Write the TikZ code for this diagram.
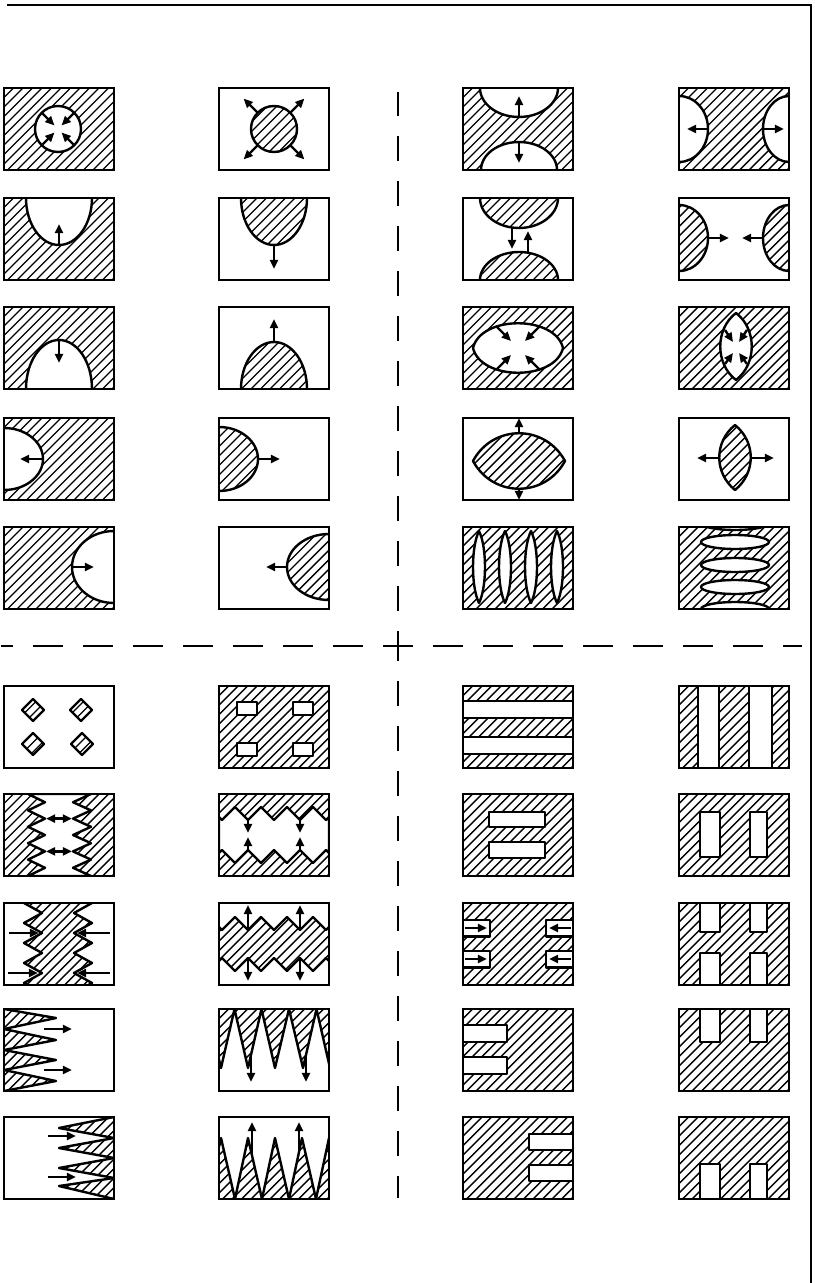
\documentclass[tikz,border=0pt]{standalone}
\usetikzlibrary{arrows.meta}
\tikzset{
  box/.style={line width=0.65mm},
  hatchln/.style={line width=0.35mm},
  rim/.style={line width=0.6mm,line join=round},
  arr/.style={line width=0.6mm,-{Triangle[length=2.3mm,width=2mm]}},
  arrs/.style={line width=0.6mm,{Triangle[length=2.3mm,width=2mm]}-{Triangle[length=2.3mm,width=2mm]}},
  rule/.style={line width=0.5mm},
  vdash/.style={line width=0.5mm,dash pattern=on 6.25mm off 5mm},
  hdash/.style={line width=0.5mm,dash pattern=on 7.5mm off 5mm},
}
\def\boxw{110}
\def\boxh{82}
\newcommand{\hatchfill}{\foreach \k in {-100,-90.5,...,96}{\draw[hatchln] (\k,100) -- ++(110,-110);}}
\newcommand{\clipbox}{\clip (0,0) rectangle (\boxw,\boxh);}
\newcommand{\cellbox}{\draw[box] (0,0) rectangle (\boxw,\boxh);}

\begin{document}
\begin{tikzpicture}[x=0.25mm,y=-0.25mm]
\useasboundingbox (0,0) rectangle (814,1283);

\def\colA{4}
\def\colB{219}
\def\colC{463}
\def\colD{679}
\def\rowA{88}
\def\rowB{198}
\def\rowC{307}
\def\rowD{418}
\def\rowE{527}
\def\rowF{686}
\def\rowG{794}
\def\rowH{903}
\def\rowI{1009}
\def\rowJ{1117}

% ------------------------------------------------ frame and dividers
\draw[rule] (7,5) -- (811,5) -- (811,1283);
\coordinate (cross) at (398,646);
\draw[hdash,dash phase=3.75mm] (cross) -- (1,646);
\draw[hdash,dash phase=3.75mm] (cross) -- (802,646);
\draw[vdash,dash phase=2.5mm] (cross) -- (398,92);
\draw[vdash,dash phase=2.5mm] (cross) -- (398,1198);

% ------------------------------------------------ row A
\begin{scope}[shift={(\colA,\rowA)}]
  \begin{scope}
    \clipbox \hatchfill
    \filldraw[rim,fill=white] (54,41) circle [radius=23];
  \end{scope}
  \cellbox
  \foreach \a in {45,135,225,315} \draw[arr,shift={(54,41)}] (\a:22) -- (\a:5);
\end{scope}
\begin{scope}[shift={(\colB,\rowA)}]
  \begin{scope}
    \clip (55,41) circle [radius=23]; \hatchfill
  \end{scope}
  \draw[rim] (55,41) circle [radius=23];
  \cellbox
  \foreach \a in {45,135,225,315} \draw[arr,shift={(55,41)}] (\a:22) -- (\a:43);
\end{scope}
\begin{scope}[shift={(\colC,\rowA)}]
  \begin{scope}
    \clipbox \hatchfill
    \filldraw[rim,fill=white] (56,0) ellipse [x radius=39,y radius=29];
    \filldraw[rim,fill=white] (56,\boxh) ellipse [x radius=38,y radius=28];
  \end{scope}
  \cellbox
  \draw[arr] (56,29) -- (56,8);
  \draw[arr] (56,54) -- (56,75);
\end{scope}
\begin{scope}[shift={(\colD,\rowA)}]
  \begin{scope}
    \clipbox \hatchfill
    \filldraw[rim,fill=white] (0,41) ellipse [x radius=29,y radius=33];
    \filldraw[rim,fill=white] (\boxw,41) ellipse [x radius=26,y radius=33];
  \end{scope}
  \cellbox
  \draw[arr] (29,41) -- (8,41);
  \draw[arr] (84,41) -- (105,41);
\end{scope}

% ------------------------------------------------ row B
\begin{scope}[shift={(\colA,\rowB)}]
  \begin{scope}
    \clipbox \hatchfill
    \filldraw[rim,fill=white] (55,0) ellipse [x radius=33,y radius=47];
  \end{scope}
  \cellbox
  \draw[arr] (55,47) -- (55,26);
\end{scope}
\begin{scope}[shift={(\colB,\rowB)}]
  \begin{scope}
    \clipbox
    \begin{scope}
      \clip (55,0) ellipse [x radius=33,y radius=47]; \hatchfill
    \end{scope}
    \draw[rim] (55,0) ellipse [x radius=33,y radius=47];
  \end{scope}
  \cellbox
  \draw[arr] (55,47) -- (55,71);
\end{scope}
\begin{scope}[shift={(\colC,\rowB)}]
  \begin{scope}
    \clipbox
    \begin{scope}
      \clip (56,0) ellipse [x radius=39,y radius=30]
            (56,\boxh) ellipse [x radius=39,y radius=28];
      \hatchfill
    \end{scope}
    \draw[rim] (56,0) ellipse [x radius=39,y radius=30];
    \draw[rim] (56,\boxh) ellipse [x radius=39,y radius=28];
  \end{scope}
  \cellbox
  \draw[arr] (49,30) -- (49,51);
  \draw[arr] (65,55) -- (65,33);
\end{scope}
\begin{scope}[shift={(\colD,\rowB)}]
  \begin{scope}
    \clipbox
    \begin{scope}
      \clip (0,40) ellipse [x radius=29,y radius=33]
            (\boxw,40) ellipse [x radius=26,y radius=33];
      \hatchfill
    \end{scope}
    \draw[rim] (0,40) ellipse [x radius=29,y radius=33];
    \draw[rim] (\boxw,40) ellipse [x radius=26,y radius=33];
  \end{scope}
  \cellbox
  \draw[arr] (29,40) -- (50,40);
  \draw[arr] (84,40) -- (63,40);
\end{scope}

% ------------------------------------------------ row C
\begin{scope}[shift={(\colA,\rowC)}]
  \begin{scope}
    \clipbox \hatchfill
    \filldraw[rim,fill=white] (55,\boxh) ellipse [x radius=33,y radius=49];
  \end{scope}
  \cellbox
  \draw[arr] (55,33) -- (55,56);
\end{scope}
\begin{scope}[shift={(\colB,\rowC)}]
  \begin{scope}
    \clipbox
    \begin{scope}
      \clip (55,\boxh) ellipse [x radius=33,y radius=47]; \hatchfill
    \end{scope}
    \draw[rim] (55,\boxh) ellipse [x radius=33,y radius=47];
  \end{scope}
  \cellbox
  \draw[arr] (55,35) -- (55,12);
\end{scope}
\begin{scope}[shift={(\colC,\rowC)}]
  \begin{scope}
    \clipbox \hatchfill
    \filldraw[rim,fill=white] (10,41) .. controls (18,8) and (92,8) .. (100,41)
      .. controls (92,74) and (18,74) .. (10,41) -- cycle;
  \end{scope}
  \cellbox
  \draw[arr] (33,19) -- (48,34);
  \draw[arr] (77,19) -- (62,34);
  \draw[arr] (33,63) -- (48,48);
  \draw[arr] (77,63) -- (62,48);
\end{scope}
\begin{scope}[shift={(\colD,\rowC)}]
  \begin{scope}
    \clipbox \hatchfill
    \filldraw[rim,fill=white] (57,6) .. controls (36,22) and (36,57) .. (57,73)
      .. controls (78,57) and (78,22) .. (57,6) -- cycle;
  \end{scope}
  \cellbox
  \draw[arr] (46,23) -- (54,35);
  \draw[arr] (68,23) -- (60,35);
  \draw[arr] (46,57) -- (54,46);
  \draw[arr] (68,57) -- (60,46);
\end{scope}

% ------------------------------------------------ row D
\begin{scope}[shift={(\colA,\rowD)}]
  \begin{scope}
    \clipbox \hatchfill
    \filldraw[rim,fill=white] (0,41) ellipse [x radius=39,y radius=31];
  \end{scope}
  \cellbox
  \draw[arr] (39,41) -- (16,41);
\end{scope}
\begin{scope}[shift={(\colB,\rowD)}]
  \begin{scope}
    \clipbox
    \begin{scope}
      \clip (0,41) ellipse [x radius=39,y radius=32]; \hatchfill
    \end{scope}
    \draw[rim] (0,41) ellipse [x radius=39,y radius=32];
  \end{scope}
  \cellbox
  \draw[arr] (39,41) -- (61,41);
\end{scope}
\begin{scope}[shift={(\colC,\rowD)}]
  \begin{scope}
    \clip (10,43) .. controls (30,6) and (82,6) .. (102,43)
      .. controls (82,80) and (30,80) .. (10,43) -- cycle;
    \hatchfill
  \end{scope}
  \draw[rim] (10,43) .. controls (30,6) and (82,6) .. (102,43)
    .. controls (82,80) and (30,80) .. (10,43) -- cycle;
  \cellbox
  \draw[arr] (56,15) -- (56,0);
  \draw[arr] (56,71) -- (56,82);
\end{scope}
\begin{scope}[shift={(\colD,\rowD)}]
  \begin{scope}
    \clip (56,7) .. controls (35,24) and (35,55) .. (56,72)
      .. controls (77,55) and (77,24) .. (56,7) -- cycle;
    \hatchfill
  \end{scope}
  \draw[rim] (56,7) .. controls (35,24) and (35,55) .. (56,72)
    .. controls (77,55) and (77,24) .. (56,7) -- cycle;
  \cellbox
  \draw[arr] (40,40) -- (18,40);
  \draw[arr] (72,40) -- (95,40);
\end{scope}

% ------------------------------------------------ row E
\begin{scope}[shift={(\colA,\rowE)}]
  \begin{scope}
    \clipbox \hatchfill
    \filldraw[rim,fill=white] (\boxw,40) ellipse [x radius=42,y radius=36];
  \end{scope}
  \cellbox
  \draw[arr] (68,40) -- (90,40);
\end{scope}
\begin{scope}[shift={(\colB,\rowE)}]
  \begin{scope}
    \clipbox
    \begin{scope}
      \clip (\boxw,40) ellipse [x radius=42,y radius=33]; \hatchfill
    \end{scope}
    \draw[rim] (\boxw,40) ellipse [x radius=42,y radius=33];
  \end{scope}
  \cellbox
  \draw[arr] (68,40) -- (47,40);
\end{scope}
\begin{scope}[shift={(\colC,\rowE)}]
  \begin{scope}
    \clipbox \hatchfill
    \foreach \x in {16,42,68,94}
      \filldraw[rim,fill=white] (\x,4) .. controls (\x-8,20) and (\x-8,60) .. (\x,76)
        .. controls (\x+8,60) and (\x+8,20) .. (\x,4) -- cycle;
  \end{scope}
  \cellbox
\end{scope}
\begin{scope}[shift={(\colD,\rowE)}]
  \begin{scope}
    \clipbox \hatchfill
    \foreach \y in {-4,15,38,60,82}
      \filldraw[rim,fill=white] (56,\y) ellipse [x radius=34,y radius=7];
  \end{scope}
  \cellbox
\end{scope}

% ------------------------------------------------ row F
\begin{scope}[shift={(\colA,\rowF)}]
  \foreach \x/\y in {29/24,77/24,29/58,78/58}{
    \begin{scope}
      \clip (\x-11,\y) -- (\x,\y-11) -- (\x+11,\y) -- (\x,\y+11) -- cycle;
      \hatchfill
    \end{scope}
    \draw[rim] (\x-11,\y) -- (\x,\y-11) -- (\x+11,\y) -- (\x,\y+11) -- cycle;
  }
  \cellbox
\end{scope}
\begin{scope}[shift={(\colB,\rowF)}]
  \begin{scope}
    \clipbox \hatchfill
    \foreach \x/\y in {18/16,74/16,18/57,74/57}
      \filldraw[rim,fill=white] (\x,\y) rectangle ++(20,13);
  \end{scope}
  \cellbox
\end{scope}
\begin{scope}[shift={(\colC,\rowF)}]
  \begin{scope}
    \clip (0,0) rectangle (\boxw,15) (0,32) rectangle (\boxw,51) (0,68) rectangle (\boxw,\boxh);
    \hatchfill
  \end{scope}
  \foreach \y in {15,32,51,68} \draw[rim] (0,\y) -- (\boxw,\y);
  \cellbox
\end{scope}
\begin{scope}[shift={(\colD,\rowF)}]
  \begin{scope}
    \clip (0,0) rectangle (19,\boxh) (40,0) rectangle (70,\boxh) (93,0) rectangle (\boxw,\boxh);
    \hatchfill
  \end{scope}
  \foreach \x in {19,40,70,93} \draw[rim] (\x,0) -- (\x,\boxh);
  \cellbox
\end{scope}

% ------------------------------------------------ row G
\begin{scope}[shift={(\colA,\rowG)}]
  \begin{scope}
    \clipbox \hatchfill
    \filldraw[rim,fill=white] (24,0) -- (41,8.2) -- (24,16.4) -- (41,24.6) -- (24,32.8)
      -- (41,41) -- (24,49.2) -- (41,57.4) -- (24,65.6) -- (41,73.8) -- (24,82)
      -- (87,82) -- (69,73.8) -- (87,65.6) -- (69,57.4) -- (87,49.2) -- (69,41)
      -- (87,32.8) -- (69,24.6) -- (87,16.4) -- (69,8.2) -- (87,0) -- cycle;
  \end{scope}
  \cellbox
  \draw[arrs] (42,24.6) -- (68,24.6);
  \draw[arrs] (42,57.4) -- (68,57.4);
\end{scope}
\begin{scope}[shift={(\colB,\rowG)}]
  \begin{scope}
    \clipbox \hatchfill
    \filldraw[rim,fill=white] (0,23) -- (3,26) -- (16,13) -- (29,26) -- (42,13)
      -- (55,26) -- (68,13) -- (81,26) -- (94,13) -- (107,26) -- (110,23)
      -- (110,59) -- (107,56) -- (94,69) -- (81,56) -- (68,69) -- (55,56)
      -- (42,69) -- (29,56) -- (16,69) -- (3,56) -- (0,59) -- cycle;
  \end{scope}
  \cellbox
  \foreach \x in {29,81}{
    \draw[arr] (\x,26) -- (\x,39);
    \draw[arr] (\x,56) -- (\x,43);
  }
\end{scope}
\begin{scope}[shift={(\colC,\rowG)}]
  \begin{scope}
    \clipbox \hatchfill
    \filldraw[rim,fill=white] (26,18) rectangle (82,33);
    \filldraw[rim,fill=white] (26,48) rectangle (82,64);
  \end{scope}
  \cellbox
\end{scope}
\begin{scope}[shift={(\colD,\rowG)}]
  \begin{scope}
    \clipbox \hatchfill
    \filldraw[rim,fill=white] (21,18) rectangle (41,63);
    \filldraw[rim,fill=white] (71,18) rectangle (88,63);
  \end{scope}
  \cellbox
\end{scope}

% ------------------------------------------------ row H
\begin{scope}[shift={(\colA,\rowH)}]
  \begin{scope}
    \clip (20,0) -- (38,10) -- (20,20) -- (38,30) -- (20,40) -- (38,50) -- (20,60)
      -- (38,70) -- (20,80) -- (23.6,82) -- (84.4,82) -- (88,80) -- (70,70) -- (88,60)
      -- (70,50) -- (88,40) -- (70,30) -- (88,20) -- (70,10) -- (88,0) -- cycle;
    \hatchfill
  \end{scope}
  \draw[rim] (20,0) -- (38,10) -- (20,20) -- (38,30) -- (20,40) -- (38,50) -- (20,60)
    -- (38,70) -- (20,80) -- (23.6,82);
  \draw[rim] (84.4,82) -- (88,80) -- (70,70) -- (88,60) -- (70,50) -- (88,40)
    -- (70,30) -- (88,20) -- (70,10) -- (88,0);
  \cellbox
  \draw[arr] (5,30) -- (35,30);
  \draw[arr] (4,70) -- (34,70);
  \draw[arr] (106,30) -- (73,30);
  \draw[arr] (106,70) -- (73,70);
\end{scope}
\begin{scope}[shift={(\colB,\rowH)}]
  \begin{scope}
    \clipbox
    \begin{scope}
      \clip (0,24) -- (3,27) -- (16,14) -- (29,27) -- (42,14) -- (55,27) -- (68,14)
        -- (81,27) -- (94,14) -- (107,27) -- (110,24)
        -- (110,58) -- (107,55) -- (94,68) -- (81,55) -- (68,68) -- (55,55)
        -- (42,68) -- (29,55) -- (16,68) -- (3,55) -- (0,58) -- cycle;
      \hatchfill
    \end{scope}
    \draw[rim] (0,24) -- (3,27) -- (16,14) -- (29,27) -- (42,14) -- (55,27) -- (68,14)
        -- (81,27) -- (94,14) -- (107,27) -- (110,24);
    \draw[rim] (110,58) -- (107,55) -- (94,68) -- (81,55) -- (68,68) -- (55,55)
        -- (42,68) -- (29,55) -- (16,68) -- (3,55) -- (0,58);
  \end{scope}
  \cellbox
  \foreach \x in {29,81}{
    \draw[arr] (\x,27) -- (\x,2);
    \draw[arr] (\x,55) -- (\x,78);
  }
\end{scope}
\begin{scope}[shift={(\colC,\rowH)}]
  \begin{scope}
    \clipbox \hatchfill
    \foreach \x/\y in {0/17,0/48,83/17,83/48}
      \filldraw[rim,fill=white] (\x,\y) rectangle ++(27,16.5);
  \end{scope}
  \cellbox
  \draw[arr] (2,25) -- (24,25);
  \draw[arr] (2,56) -- (24,56);
  \draw[arr] (108,25) -- (86,25);
  \draw[arr] (108,56) -- (86,56);
\end{scope}
\begin{scope}[shift={(\colD,\rowH)}]
  \begin{scope}
    \clipbox \hatchfill
    \filldraw[rim,fill=white] (21,-2) rectangle (41,29);
    \filldraw[rim,fill=white] (71,-2) rectangle (88,29);
    \filldraw[rim,fill=white] (21,50) rectangle (41,84);
    \filldraw[rim,fill=white] (71,50) rectangle (88,84);
  \end{scope}
  \cellbox
\end{scope}

% ------------------------------------------------ row I
\begin{scope}[shift={(\colA,\rowI)}]
  \begin{scope}
    \clipbox
    \begin{scope}
      \clip (0,0) -- (52,9) -- (0,20) -- (52,31) -- (0,41) -- (52,51) -- (0,61)
        -- (52,72) -- (0,82) -- cycle;
      \hatchfill
    \end{scope}
    \draw[rim] (0,0) -- (52,9) -- (0,20) -- (52,31) -- (0,41) -- (52,51) -- (0,61)
      -- (52,72) -- (0,82);
  \end{scope}
  \cellbox
  \draw[arr] (40,20) -- (68,20);
  \draw[arr] (40,61) -- (68,61);
\end{scope}
\begin{scope}[shift={(\colB,\rowI)}]
  \begin{scope}
    \clipbox
    \begin{scope}
      \clip (-12,0) -- (2,59) -- (15.5,0) -- (29,59) -- (42.5,0) -- (56,59) -- (70,0)
        -- (84,59) -- (97.5,0) -- (111,59) -- (125,0) -- cycle;
      \hatchfill
    \end{scope}
    \draw[rim] (-12,0) -- (2,59) -- (15.5,0) -- (29,59) -- (42.5,0) -- (56,59) -- (70,0)
      -- (84,59) -- (97.5,0) -- (111,59) -- (125,0);
  \end{scope}
  \cellbox
  \draw[arr] (32,46) -- (32,73);
  \draw[arr] (87,46) -- (87,73);
\end{scope}
\begin{scope}[shift={(\colC,\rowI)}]
  \begin{scope}
    \clipbox \hatchfill
    \filldraw[rim,fill=white] (-2,16) rectangle (44,33);
    \filldraw[rim,fill=white] (-2,48) rectangle (44,65);
  \end{scope}
  \cellbox
\end{scope}
\begin{scope}[shift={(\colD,\rowI)}]
  \begin{scope}
    \clipbox \hatchfill
    \filldraw[rim,fill=white] (21,-2) rectangle (41,33);
    \filldraw[rim,fill=white] (71,-2) rectangle (88,33);
  \end{scope}
  \cellbox
\end{scope}

% ------------------------------------------------ row J
\begin{scope}[shift={(\colA,\rowJ)}]
  \begin{scope}
    \clipbox
    \begin{scope}
      \clip (110,0) -- (55,11) -- (110,21) -- (55,31) -- (110,41) -- (55,51) -- (110,61)
        -- (55,69) -- (110,82) -- cycle;
      \hatchfill
    \end{scope}
    \draw[rim] (110,0) -- (55,11) -- (110,21) -- (55,31) -- (110,41) -- (55,51) -- (110,61)
      -- (55,69) -- (110,82);
  \end{scope}
  \cellbox
  \draw[arr] (44,19) -- (72,19);
  \draw[arr] (44,60) -- (72,60);
\end{scope}
\begin{scope}[shift={(\colB,\rowJ)}]
  \begin{scope}
    \clipbox
    \begin{scope}
      \clip (-12,82) -- (2,21) -- (16,82) -- (29,21) -- (43,82) -- (56,21) -- (70,82)
        -- (83,21) -- (97,82) -- (110,21) -- (124,82) -- cycle;
      \hatchfill
    \end{scope}
    \draw[rim] (-12,82) -- (2,21) -- (16,82) -- (29,21) -- (43,82) -- (56,21) -- (70,82)
      -- (83,21) -- (97,82) -- (110,21) -- (124,82);
  \end{scope}
  \cellbox
  \draw[arr] (33,38) -- (33,5);
  \draw[arr] (80,35) -- (80,5);
\end{scope}
\begin{scope}[shift={(\colC,\rowJ)}]
  \begin{scope}
    \clipbox \hatchfill
    \filldraw[rim,fill=white] (66,17) rectangle (112,33);
    \filldraw[rim,fill=white] (66,48) rectangle (112,64);
  \end{scope}
  \cellbox
\end{scope}
\begin{scope}[shift={(\colD,\rowJ)}]
  \begin{scope}
    \clipbox \hatchfill
    \filldraw[rim,fill=white] (21,47) rectangle (41,84);
    \filldraw[rim,fill=white] (71,47) rectangle (88,84);
  \end{scope}
  \cellbox
\end{scope}

\end{tikzpicture}
\end{document}
